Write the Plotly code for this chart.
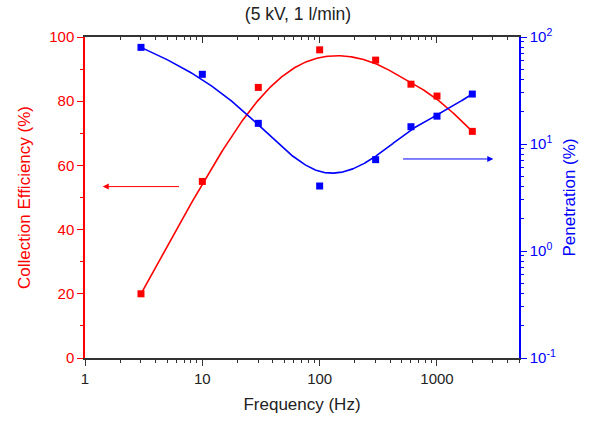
import numpy as np
import plotly.graph_objects as go

# ---- data ----
freq = [3, 10, 30, 100, 300, 600, 1000, 2000]                 # Hz
efficiency = [20.0, 55.0, 84.3, 96.0, 92.8, 85.3, 81.6, 70.6]  # %
penetration = [80.0, 44.8, 15.6, 4.05, 7.14, 14.5, 18.2, 29.3] # %

x_ticks = [1, 10, 100, 1000]
x_tick_text = ["1", "10", "100", "1000"]
y2_ticks = [0.1, 1, 10, 100]
y2_tick_text = ["10<sup>-1</sup>", "10<sup>0</sup>", "10<sup>1</sup>", "10<sup>2</sup>"]

RED = "#ff0000"
BLUE = "#0000ff"
AX = "#333333"
FONT = "Liberation Sans, Arial, sans-serif"


def bspline(cx, cy, n=400, k=3):
    """Clamped uniform B-spline using the data points as control points."""
    cx = np.asarray(cx, float)
    cy = np.asarray(cy, float)
    m = len(cx)
    knots = np.concatenate([np.zeros(k), np.arange(0, m - k + 1), np.full(k, m - k)]).astype(float)
    ts = np.linspace(0, m - k, n)
    out_x, out_y = [], []
    for t in ts:
        N = np.zeros(len(knots) - 1)
        for i in range(len(knots) - 1):
            if knots[i] <= t < knots[i + 1]:
                N[i] = 1.0
        if t >= knots[-1]:
            idx = np.max(np.where(knots[:-1] < knots[-1])[0])
            N[idx] = 1.0
        for d in range(1, k + 1):
            Nn = np.zeros(len(knots) - 1 - d)
            for i in range(len(Nn)):
                a = 0.0
                if knots[i + d] != knots[i]:
                    a = (t - knots[i]) / (knots[i + d] - knots[i]) * N[i]
                b = 0.0
                if knots[i + d + 1] != knots[i + 1]:
                    b = (knots[i + d + 1] - t) / (knots[i + d + 1] - knots[i + 1]) * N[i + 1]
                Nn[i] = a + b
            N = Nn
        out_x.append(np.dot(N[:m], cx))
        out_y.append(np.dot(N[:m], cy))
    return np.array(out_x), np.array(out_y)


lf = np.log10(freq)
rx, ry = bspline(lf, efficiency)
bx, by = bspline(lf, np.log10(penetration))

fig = go.Figure()

fig.add_trace(go.Scatter(x=10 ** rx, y=ry, mode="lines", line=dict(color=RED, width=1.6),
                         hoverinfo="skip", showlegend=False, xaxis="x", yaxis="y"))
fig.add_trace(go.Scatter(x=freq, y=efficiency, mode="markers",
                         marker=dict(symbol="square", size=7, color=RED),
                         showlegend=False, xaxis="x", yaxis="y"))
fig.add_trace(go.Scatter(x=10 ** bx, y=10 ** by, mode="lines", line=dict(color=BLUE, width=1.6),
                         hoverinfo="skip", showlegend=False, xaxis="x", yaxis="y2"))
fig.add_trace(go.Scatter(x=freq, y=penetration, mode="markers",
                         marker=dict(symbol="square", size=7, color=BLUE),
                         showlegend=False, xaxis="x", yaxis="y2"))
# invisible trace so the top mirror axis is drawn
fig.add_trace(go.Scatter(x=[freq[0]], y=[efficiency[0]], mode="markers", opacity=0,
                         hoverinfo="skip", showlegend=False, xaxis="x2", yaxis="y"))

x_minor = [m * 10 ** d for d in range(0, 4) for m in range(2, 10) if m * 10 ** d <= 5000]
y2_minor = [m * 10 ** d for d in range(-1, 2) for m in range(2, 10)]

xr = [0, np.log10(5000)]

fig.update_layout(
    width=590, height=425,
    paper_bgcolor="white", plot_bgcolor="white",
    margin=dict(l=85, r=71, t=37, b=67, autoexpand=False),
    font=dict(family=FONT, size=15, color="#222"),
    title=dict(text="(5 kV, 1 l/min)", x=298 / 590, xref="container", y=1 - 14 / 425, yref="container",
               yanchor="middle", xanchor="center", font=dict(size=17.5, color="#222")),
    xaxis=dict(type="log", range=xr, tickvals=x_ticks, ticktext=x_tick_text,
               ticks="outside", ticklen=6, tickwidth=1.3, tickcolor=AX,
               minor=dict(tickvals=x_minor, ticks="outside", ticklen=3, tickcolor=AX, tickwidth=1),
               showline=True, linecolor=AX, linewidth=1.5, showgrid=False, zeroline=False,
               tickfont=dict(size=15, color="#222"), automargin=False,
               title=dict(text="Frequency (Hz)", font=dict(size=17, color="#222"), standoff=12),
               anchor="y"),
    xaxis2=dict(type="log", range=xr, overlaying="x", side="top", anchor="y",
                tickvals=x_ticks, showticklabels=False, automargin=False,
                ticks="inside", ticklen=6, tickwidth=1.3, tickcolor=AX,
                minor=dict(tickvals=x_minor, ticks="inside", ticklen=3, tickcolor=AX, tickwidth=1),
                showline=True, linecolor=AX, linewidth=1.5, showgrid=False, zeroline=False),
    yaxis=dict(range=[0, 100], dtick=20, ticks="outside", ticklen=6, tickwidth=1.3, tickcolor=RED,
               minor=dict(dtick=10, ticks="outside", ticklen=3, tickcolor=RED, tickwidth=1),
               showline=True, linecolor=RED, linewidth=1.5, showgrid=False, zeroline=False,
               tickfont=dict(size=15, color=RED), automargin=False,
               title=dict(text="Collection Efficiency (%)", font=dict(size=17, color=RED), standoff=14)),
    yaxis2=dict(type="log", range=[-1, 2], overlaying="y", side="right", anchor="x",
                tickvals=y2_ticks, ticktext=y2_tick_text, automargin=False,
                ticks="outside", ticklen=6, tickwidth=1.3, tickcolor=BLUE,
                minor=dict(tickvals=y2_minor, ticks="outside", ticklen=3, tickcolor=BLUE, tickwidth=1),
                showline=True, linecolor=BLUE, linewidth=1.5, showgrid=False, zeroline=False,
                tickfont=dict(size=15, color=BLUE),
                title=dict(text="Penetration (%)", font=dict(size=17, color=BLUE), standoff=8)),
    annotations=[
        dict(x=0.151, y=53.4, xref="x", yref="y", ax=0.814, ay=53.4, axref="x", ayref="y",
             text="", showarrow=True, arrowhead=2, arrowsize=1.2, arrowwidth=1, arrowcolor=RED),
        dict(x=3.48, y=62, xref="x", yref="y", ax=2.698, ay=62, axref="x", ayref="y",
             text="", showarrow=True, arrowhead=2, arrowsize=1.2, arrowwidth=1, arrowcolor=BLUE),
    ],
)

fig.write_html("out.html", config={"displayModeBar": False},
               post_script="document.body.style.margin='0';")
